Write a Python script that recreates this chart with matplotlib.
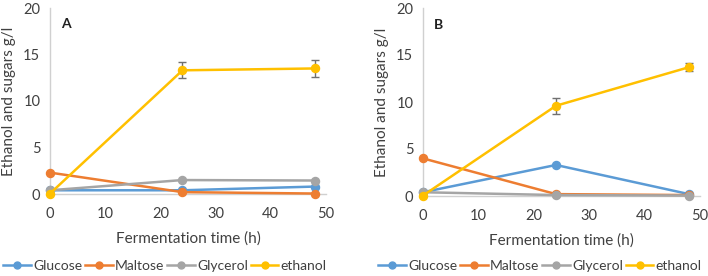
import matplotlib
matplotlib.use("Agg")
import matplotlib.pyplot as plt
from matplotlib.lines import Line2D

plt.rcParams['font.family'] = ['Lato', 'DejaVu Sans']

time = [0, 24, 48]
series_names = ["Glucose", "Maltose", "Glycerol", "ethanol"]
colors = ["#5B9BD5", "#ED7D31", "#A5A5A5", "#FFC000"]

# Panel A
a_glucose = [0.4, 0.4, 0.8]
a_maltose = [2.3, 0.2, 0.05]
a_glycerol = [0.4, 1.5, 1.45]
a_ethanol = [0.05, 13.3, 13.5]
a_ethanol_err = [0.0, 0.85, 0.95]

# Panel B
b_glucose = [0.4, 3.3, 0.2]
b_maltose = [4.0, 0.2, 0.1]
b_glycerol = [0.4, 0.1, 0.05]
b_ethanol = [0.05, 9.6, 13.7]
b_ethanol_err = [0.0, 0.85, 0.45]

yticks = [0, 5, 10, 15, 20]
xticks = [0, 10, 20, 30, 40, 50]

fig = plt.figure(figsize=(7.08, 2.76), dpi=100)
W, H = 708, 276
axA = fig.add_axes([50 / W, 1 - 194 / H, 276 / W, 186 / H])
axB = fig.add_axes([423 / W, 1 - 196 / H, 277 / W, 188 / H])

panels = [
    (axA, [a_glucose, a_maltose, a_glycerol, a_ethanol], a_ethanol_err, "A", 165),
    (axB, [b_glucose, b_maltose, b_glycerol, b_ethanol], b_ethanol_err, "B", 540),
]

for ax, data, err, label, legx in panels:
    for vals, c in zip(data, colors):
        ax.plot(time, vals, color=c, lw=1.8, marker='o', ms=5.8, zorder=3, clip_on=False)
    ax.errorbar(time, data[3], yerr=err, fmt='none', ecolor='#707070', elinewidth=1,
                capsize=3, capthick=1, zorder=2)
    ax.set_xlim(0, 50)
    ax.set_ylim(0, 20)
    ax.set_xticks(xticks)
    ax.set_yticks(yticks)
    ax.tick_params(axis='x', length=0, labelsize=10.5, colors='#404040', pad=9)
    ax.tick_params(axis='y', length=0, labelsize=10.5, colors='#404040', pad=7)
    for s in ['top', 'right']:
        ax.spines[s].set_visible(False)
    for s in ['left', 'bottom']:
        ax.spines[s].set_color('#D0D0D0')
        ax.spines[s].set_linewidth(1)
    ax.set_xlabel("Fermentation time (h)", fontsize=11, color='#404040', labelpad=8)
    ax.set_ylabel("Ethanol and sugars g/l", fontsize=11, color='#404040', labelpad=5)
    ax.text(0.04, 0.89, label, transform=ax.transAxes, fontsize=10, fontweight='bold',
            color='#202020')
    handles = [Line2D([0], [0], color=c, lw=1.8, marker='o', ms=5) for c in colors]
    fig.legend(handles, series_names, loc='center', bbox_to_anchor=(legx / W, 1 - 266 / H),
               ncol=4, frameon=False, fontsize=10, handlelength=2.0, handletextpad=0.15,
               columnspacing=0.2, labelcolor='#404040', borderpad=0, borderaxespad=0)

fig.savefig("out.png", dpi=100)
